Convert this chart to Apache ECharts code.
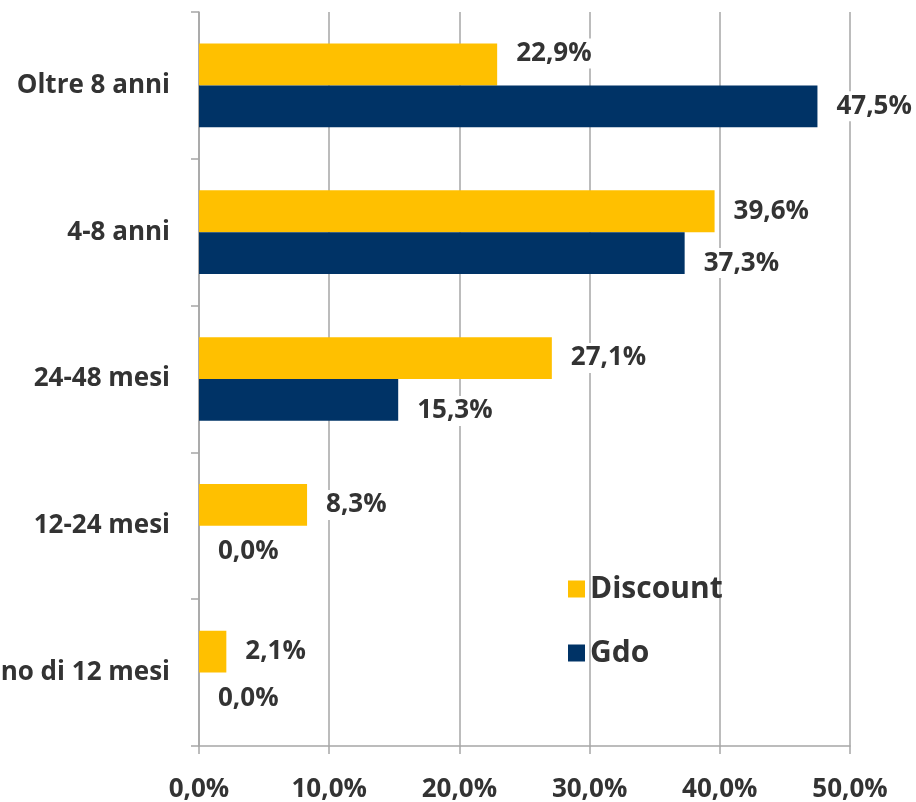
<!DOCTYPE html>
<html><head><meta charset="utf-8">
<script src="https://cdn.jsdelivr.net/npm/echarts@6/dist/echarts.min.js"></script>
<style>html,body{margin:0;padding:0;background:#fff}#c{width:916px;height:802px}</style>
</head><body><div id="c"></div>
<script>
const categories = ['Meno di 12 mesi', '12-24 mesi', '24-48 mesi', '4-8 anni', 'Oltre 8 anni'];
const discountValues = [2.1, 8.3, 27.1, 39.6, 22.9];
const gdoValues = [0.0, 0.0, 15.3, 37.3, 47.5];
const seriesNames = ['Discount', 'Gdo'];
const tickMax = 50, tickStep = 10;

const fmt = v => v.toFixed(1).replace('.', ',') + '%';
const FONT = 'Open Sans';
const TXT = '#333333';
const discountLabelShift = [0, 0, 0, 0, -11];
const gdoLabelShift = [5, 5, 11, 10, 0];

const lbl = {
  show: true, position: 'right', distance: 16,
  formatter: p => fmt(p.value),
  fontFamily: FONT, fontWeight: 'bold', fontSize: 26, color: TXT,
  backgroundColor: '#ffffff', padding: [2, 3]
};

const chart = echarts.init(document.getElementById('c'));
chart.setOption({
  animation: false,
  grid: { left: 199, right: 66, top: 12, bottom: 56, containLabel: false, outerBoundsMode: 'none' },
  legend: {
    data: seriesNames, orient: 'vertical', left: 563, top: 569,
    itemWidth: 17, itemHeight: 17, itemGap: 34, icon: 'rect',
    textStyle: { fontFamily: FONT, fontWeight: 'bold', fontSize: 30, color: TXT }
  },
  xAxis: {
    type: 'value', min: 0, max: tickMax, interval: tickStep,
    axisLine: { show: true, lineStyle: { color: '#a6a6a6', width: 1.5 } },
    axisTick: { show: true, length: 8, lineStyle: { color: '#a6a6a6', width: 1.5 } },
    splitLine: { show: true, lineStyle: { color: '#a6a6a6', width: 1.5 } },
    axisLabel: { formatter: v => fmt(v), margin: 31, fontFamily: FONT, fontWeight: 'bold', fontSize: 26, color: TXT }
  },
  yAxis: {
    type: 'category', data: categories,
    axisLine: { show: true, lineStyle: { color: '#a6a6a6', width: 1.5 } },
    axisTick: { show: true, length: 8, lineStyle: { color: '#a6a6a6', width: 1.5 } },
    axisLabel: { margin: 29, fontFamily: FONT, fontWeight: 'bold', fontSize: 26, color: TXT }
  },
  series: [
    {
      name: 'Discount', type: 'bar', data: discountValues.map((v, i) => ({ value: v, label: { offset: [0, discountLabelShift[i]] } })),
      itemStyle: { color: '#FFC000' }, barGap: '0%', barCategoryGap: '43%',
      label: lbl
    },
    {
      name: 'Gdo', type: 'bar', data: gdoValues.map((v, i) => ({ value: v, label: { offset: [0, gdoLabelShift[i]] } })),
      itemStyle: { color: '#003366' }, barGap: '0%', barCategoryGap: '43%',
      label: lbl
    }
  ]
});
</script></body></html>
